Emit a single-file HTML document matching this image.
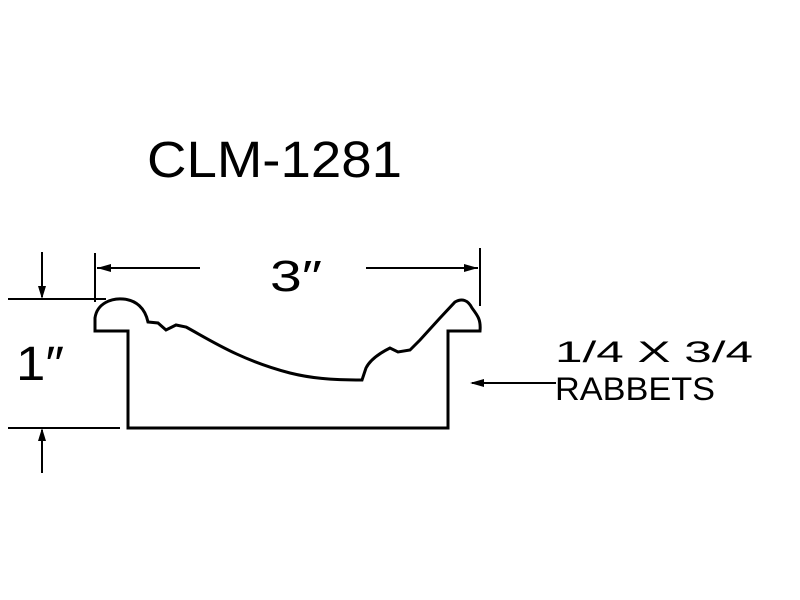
<!DOCTYPE html>
<html><head><style>html,body{margin:0;padding:0;background:#fff;}svg{display:block}</style></head>
<body>
<svg width="800" height="600" viewBox="0 0 800 600" xmlns="http://www.w3.org/2000/svg">
<g font-family="Liberation Sans, sans-serif" fill="#000">
<text x="147" y="177" font-size="51" textLength="255" lengthAdjust="spacingAndGlyphs">CLM-1281</text>
<text x="270" y="291" font-size="44" textLength="52" lengthAdjust="spacingAndGlyphs">3″</text>
<text x="16" y="380" font-size="48" textLength="48" lengthAdjust="spacingAndGlyphs">1″</text>
<text x="555" y="362" font-size="30" textLength="198" lengthAdjust="spacingAndGlyphs">1/4 X 3/4</text>
<text x="555" y="400" font-size="32" textLength="160" lengthAdjust="spacingAndGlyphs">RABBETS</text>
</g>
<g stroke="#000" fill="none" stroke-width="3">
<path d="M95,331 L95,318 C97,303 112,298 123,299 C136,300 145,308 148,322 L158,323 L166,330 L176,325 L186,327 C210,340 240,360 290,373 C310,378 330,380 362,380 L366,368 C370,360 378,354 390,348 L398,352 L410,350 L420,340 L440,318 L455,302 C462,298 468,300 472,308 C478,316 481,320 480,331 L448,331 L448,428 L128,428 L128,331 Z"/>
</g>
<g stroke="#000" stroke-width="2" fill="none">
<line x1="95" y1="253" x2="95" y2="302"/>
<line x1="480" y1="248" x2="480" y2="306"/>
<line x1="97" y1="268" x2="200" y2="268"/>
<line x1="366" y1="268" x2="478" y2="268"/>
<line x1="8" y1="299" x2="106" y2="299"/>
<line x1="8" y1="428" x2="120" y2="428"/>
<line x1="42" y1="252" x2="42" y2="297"/>
<line x1="42" y1="430" x2="42" y2="473"/>
<line x1="472" y1="383" x2="556" y2="383"/>
</g>
<g fill="#000">
<polygon points="97,268 111,264 111,272"/>
<polygon points="478,268 464,264 464,272"/>
<polygon points="42,299 38,286 46,286"/>
<polygon points="42,428 38,441 46,441"/>
<polygon points="470,383 484,379 484,387"/>
</g>
</svg>
</body></html>
